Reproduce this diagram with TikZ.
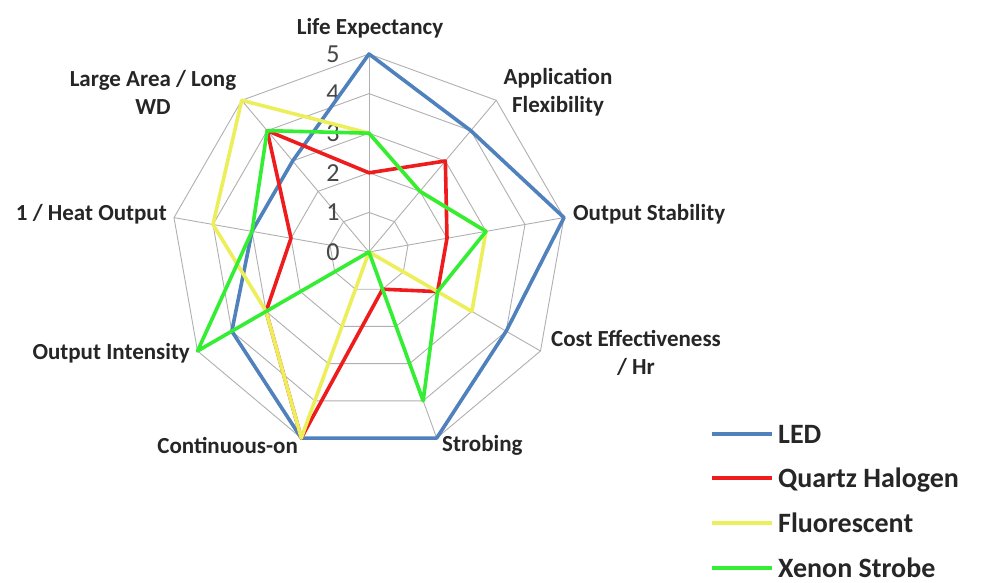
\documentclass[tikz,border=0pt]{standalone}
\usepackage{fontspec}
\setmainfont{Carlito}
\usetikzlibrary{calc}

\definecolor{ledblue}{HTML}{4F81BD}
\definecolor{qhred}{HTML}{EE1C1C}
\definecolor{flyellow}{HTML}{EDEF5A}
\definecolor{xegreen}{HTML}{33EE33}
\definecolor{gridgray}{HTML}{B0B0B0}
\definecolor{txt}{HTML}{262626}

\tikzset{
  gridline/.style={draw=gridgray, line width=0.9pt},
  series/.style={line width=3.6pt, line join=round},
  axislabel/.style={font=\bfseries\fontsize{23}{28}\selectfont, text=txt, inner sep=0pt, align=center},
  scalelabel/.style={font=\fontsize{26}{28}\selectfont, text=txt!85!white, inner sep=0pt},
  legendtext/.style={font=\bfseries\fontsize{28}{30}\selectfont, text=txt, inner sep=0pt, anchor=west, text depth=0pt},
  legendline/.style={line width=3.6pt}
}

\begin{document}
\begin{tikzpicture}[x=39.6pt, y=39.6pt]
  % canvas, centred on the chart's hub
  \useasboundingbox (-369pt,-331pt) rectangle (617pt,252pt);
  \fill[white] (-369pt,-331pt) rectangle (617pt,252pt);

  % rings 1..5 and the nine spokes
  \foreach \r in {1,...,5} {
    \draw[gridline] (90:\r) \foreach \i in {1,...,8} { -- ({90-40*\i}:\r) } -- cycle;
  }
  \foreach \i in {0,...,8} {
    \draw[gridline] (0,0) -- ({90-40*\i}:5);
  }

  % scale values along the top spoke
  \foreach \k in {0,...,5} {
    \node[scalelabel, xshift=-36pt] (s\k) at (0,\k) {\k};
  }

  % series: Life, App Flex, Out Stab, Cost Eff, Strobing, Cont-on, Out Int, 1/Heat, Large Area
  \draw[series, ledblue]
    (90:5) -- (50:4) -- (10:5) -- (-30:4) -- (-70:5) -- (-110:5) -- (-150:4) -- (170:3) -- (130:3) -- cycle;
  \draw[series, qhred]
    (90:2) -- (50:3) -- (10:2) -- (-30:2) -- (-70:1) -- (-110:5) -- (-150:3) -- (170:2) -- (130:4) -- cycle;
  \draw[series, flyellow]
    (90:3) -- (50:2) -- (10:3) -- (-30:3) -- (-70:0) -- (-110:5) -- (-150:3) -- (170:4) -- (130:5) -- cycle;
  \draw[series, xegreen]
    (90:3) -- (50:2) -- (10:3) -- (-30:2) -- (-70:4) -- (-110:0) -- (-150:5) -- (170:3) -- (130:4) -- cycle;

  % axis names
  \node[axislabel] (life) at (1pt,224pt) {Life Expectancy};
  \node[axislabel] (flex) at (189pt,160pt) {Application\\Flexibility};
  \node[axislabel, anchor=west] (stab) at (204pt,38pt) {Output Stability};
  \node[axislabel] (cost) at (267pt,-101pt) {Cost Effectiveness\\/ Hr};
  \node[axislabel, anchor=west] (strob) at (73pt,-193pt) {Strobing};
  \node[axislabel, anchor=east] (cont) at (-71pt,-193pt) {Continuous-on};
  \node[axislabel, anchor=east] (inten) at (-179pt,-101pt) {Output Intensity};
  \node[axislabel, anchor=east] (heat) at (-202pt,38pt) {1 / Heat Output};
  \node[axislabel] (area) at (-216pt,160pt) {Large Area / Long\\WD};

  % legend
  \foreach \c/\t/\y [count=\n] in {ledblue/LED/-182, qhred/Quartz Halogen/-226, flyellow/Fluorescent/-271, xegreen/Xenon Strobe/-316} {
    \coordinate (la\n) at (343pt,\y pt);
    \coordinate (lb\n) at (403pt,\y pt);
    \draw[legendline, \c] (la\n) -- (lb\n);
    \node[legendtext] (lt\n) at (409pt,\y pt) {\t};
  }
\end{tikzpicture}
\end{document}
